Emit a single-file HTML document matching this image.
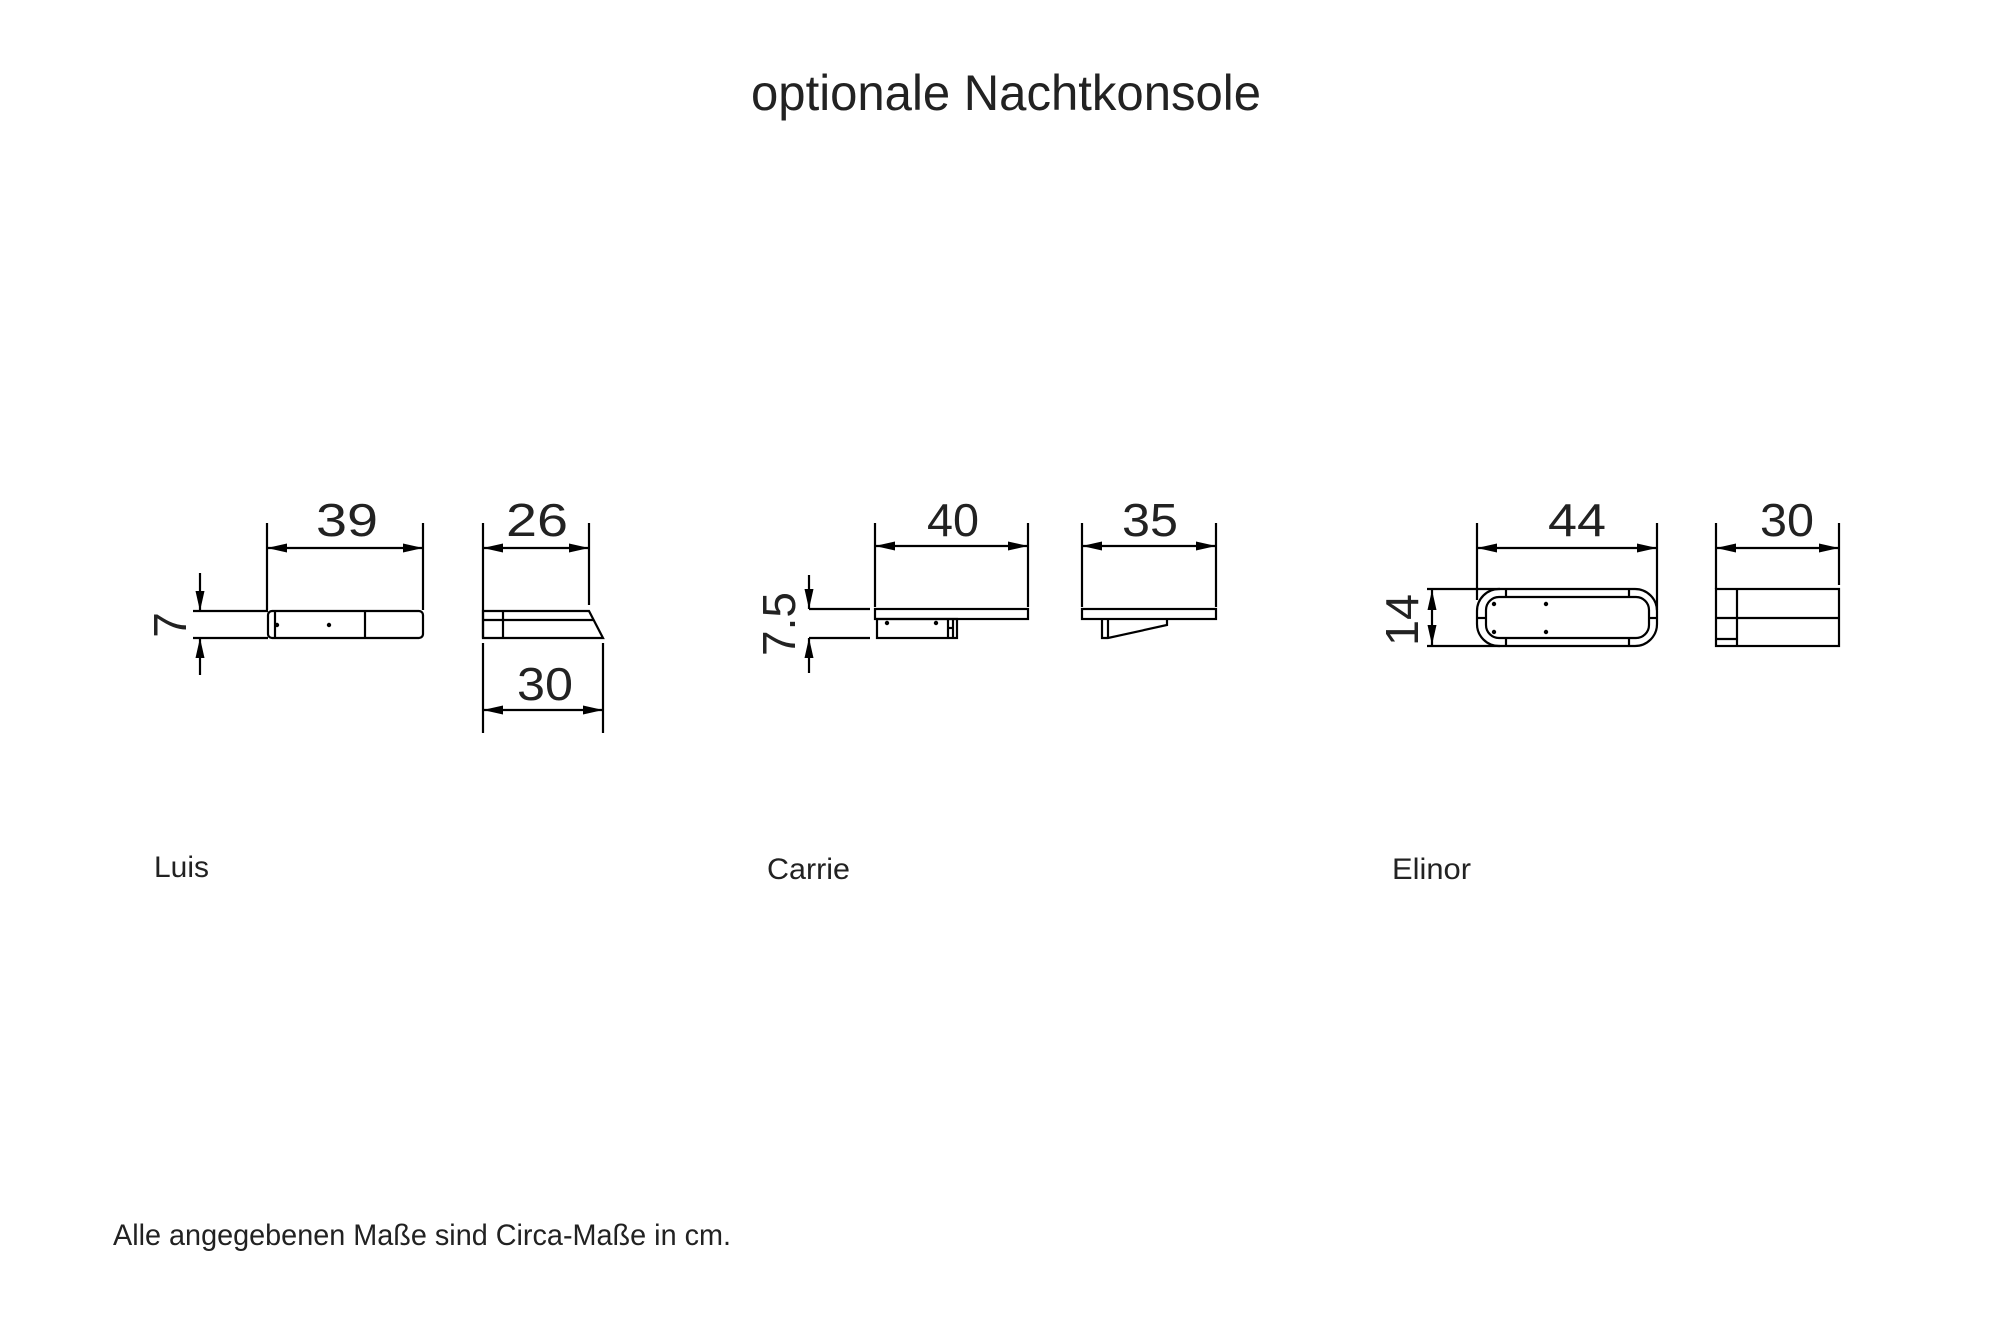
<!DOCTYPE html>
<html><head><meta charset="utf-8"><style>
html,body{margin:0;padding:0;background:#fff;}
svg{display:block}
.t{font-family:"Liberation Sans",sans-serif;fill:#222;}
.d{font-family:"Liberation Sans",sans-serif;fill:#222;font-size:46px;font-weight:normal}
</style></head><body>
<svg width="2000" height="1333" viewBox="0 0 2000 1333" xmlns="http://www.w3.org/2000/svg">
<defs>
<marker id="a" viewBox="0 0 20 9" refX="20" refY="4.5" markerWidth="20" markerHeight="9" markerUnits="userSpaceOnUse" orient="auto-start-reverse"><path d="M0,0 L20,4.5 L0,9 z" fill="#000"/></marker>
</defs>
<text class="t" x="751" y="110" font-size="50" textLength="510" lengthAdjust="spacingAndGlyphs">optionale Nachtkonsole</text>

<g stroke="#000" stroke-width="2.2" fill="none">
<!-- LUIS front -->
<line x1="267" y1="523" x2="267" y2="610"/><line x1="423" y1="523" x2="423" y2="610"/>
<line x1="267" y1="548" x2="423" y2="548" marker-start="url(#a)" marker-end="url(#a)"/>
<rect x="268" y="611" width="155" height="27" rx="4"/>
<line x1="275" y1="611" x2="275" y2="638"/>
<line x1="365" y1="611" x2="365" y2="638"/>
<line x1="193" y1="611" x2="268" y2="611"/><line x1="193" y1="638" x2="268" y2="638"/>
<line x1="200" y1="573" x2="200" y2="611" marker-end="url(#a)"/>
<line x1="200" y1="675" x2="200" y2="638" marker-end="url(#a)"/>
<!-- LUIS side -->
<line x1="483" y1="523" x2="483" y2="638"/><line x1="589" y1="523" x2="589" y2="605"/>
<line x1="483" y1="548" x2="589" y2="548" marker-start="url(#a)" marker-end="url(#a)"/>
<path d="M483,611 L589,611 L603,638 L483,638 Z"/>
<line x1="483" y1="620" x2="594" y2="620"/>
<line x1="503" y1="611" x2="503" y2="638"/>
<line x1="483" y1="643" x2="483" y2="733"/><line x1="603" y1="643" x2="603" y2="733"/>
<line x1="483" y1="710" x2="603" y2="710" marker-start="url(#a)" marker-end="url(#a)"/>

<!-- CARRIE front -->
<line x1="875" y1="523" x2="875" y2="607"/><line x1="1028" y1="523" x2="1028" y2="607"/>
<line x1="875" y1="546" x2="1028" y2="546" marker-start="url(#a)" marker-end="url(#a)"/>
<rect x="875" y="609" width="153" height="10"/>
<rect x="877" y="619" width="80" height="19"/>
<line x1="948" y1="619" x2="948" y2="638"/><line x1="953" y1="619" x2="953" y2="638"/>
<line x1="948" y1="628" x2="953" y2="628"/>
<line x1="809" y1="609" x2="870" y2="609"/><line x1="809" y1="638" x2="870" y2="638"/>
<line x1="809" y1="575" x2="809" y2="609" marker-end="url(#a)"/>
<line x1="809" y1="673" x2="809" y2="638" marker-end="url(#a)"/>
<!-- CARRIE side -->
<line x1="1082" y1="523" x2="1082" y2="607"/><line x1="1216" y1="523" x2="1216" y2="607"/>
<line x1="1082" y1="546" x2="1216" y2="546" marker-start="url(#a)" marker-end="url(#a)"/>
<rect x="1082" y="609" width="134" height="10"/>
<path d="M1102,619 L1102,638 L1108,638 L1167,625 L1167,619"/>
<line x1="1108" y1="619" x2="1108" y2="638"/>

<!-- ELINOR front -->
<line x1="1477" y1="523" x2="1477" y2="600"/><line x1="1657" y1="523" x2="1657" y2="610"/>
<line x1="1477" y1="548" x2="1657" y2="548" marker-start="url(#a)" marker-end="url(#a)"/>
<rect x="1477" y="589" width="180" height="57" rx="22"/>
<rect x="1486" y="597" width="163" height="41" rx="13"/>
<line x1="1506" y1="589" x2="1506" y2="597"/><line x1="1629" y1="589" x2="1629" y2="597"/>
<line x1="1506" y1="638" x2="1506" y2="646"/><line x1="1629" y1="638" x2="1629" y2="646"/>
<line x1="1477" y1="618" x2="1486" y2="618"/><line x1="1649" y1="618" x2="1657" y2="618"/>
<line x1="1427" y1="589" x2="1500" y2="589"/><line x1="1427" y1="646" x2="1500" y2="646"/>
<line x1="1432" y1="618" x2="1432" y2="590" marker-end="url(#a)"/>
<line x1="1432" y1="618" x2="1432" y2="645" marker-end="url(#a)"/>
<!-- ELINOR side -->
<line x1="1716" y1="523" x2="1716" y2="589"/><line x1="1839" y1="523" x2="1839" y2="585"/>
<line x1="1716" y1="548" x2="1839" y2="548" marker-start="url(#a)" marker-end="url(#a)"/>
<rect x="1716" y="589" width="123" height="57"/>
<line x1="1716" y1="618" x2="1839" y2="618"/>
<line x1="1737" y1="589" x2="1737" y2="646"/>
<line x1="1716" y1="639" x2="1737" y2="639"/>
</g>
<g fill="#000">
<circle cx="277" cy="625" r="2.2"/><circle cx="329" cy="625" r="2.2"/>
<circle cx="887" cy="623" r="2.2"/><circle cx="936" cy="623" r="2.2"/>
<circle cx="1494" cy="604" r="2.2"/><circle cx="1546" cy="604" r="2.2"/>
<circle cx="1494" cy="632" r="2.2"/><circle cx="1546" cy="632" r="2.2"/>
</g>

<text class="d" x="347" y="536" text-anchor="middle" textLength="62" lengthAdjust="spacingAndGlyphs">39</text>
<text class="d" x="537" y="536" text-anchor="middle" textLength="62" lengthAdjust="spacingAndGlyphs">26</text>
<text class="d" x="545" y="700" text-anchor="middle" textLength="56" lengthAdjust="spacingAndGlyphs">30</text>
<text class="d" transform="translate(186,625) rotate(-90)" text-anchor="middle">7</text>
<text class="d" x="953" y="536" text-anchor="middle" textLength="52" lengthAdjust="spacingAndGlyphs">40</text>
<text class="d" x="1150" y="536" text-anchor="middle" textLength="56" lengthAdjust="spacingAndGlyphs">35</text>
<text class="d" transform="translate(795,624) rotate(-90)" text-anchor="middle">7.5</text>
<text class="d" x="1577" y="536" text-anchor="middle" textLength="58" lengthAdjust="spacingAndGlyphs">44</text>
<text class="d" x="1787" y="536" text-anchor="middle" textLength="54" lengthAdjust="spacingAndGlyphs">30</text>
<text class="d" transform="translate(1418,620) rotate(-90)" text-anchor="middle" textLength="52" lengthAdjust="spacingAndGlyphs">14</text>

<text class="t" x="154" y="877" font-size="30" textLength="55" lengthAdjust="spacingAndGlyphs">Luis</text>
<text class="t" x="767" y="879" font-size="30" textLength="83" lengthAdjust="spacingAndGlyphs">Carrie</text>
<text class="t" x="1392" y="879" font-size="30" textLength="79" lengthAdjust="spacingAndGlyphs">Elinor</text>
<text class="t" x="113" y="1245" font-size="30" textLength="618" lengthAdjust="spacingAndGlyphs">Alle angegebenen Maße sind Circa-Maße in cm.</text>
</svg>
</body></html>
